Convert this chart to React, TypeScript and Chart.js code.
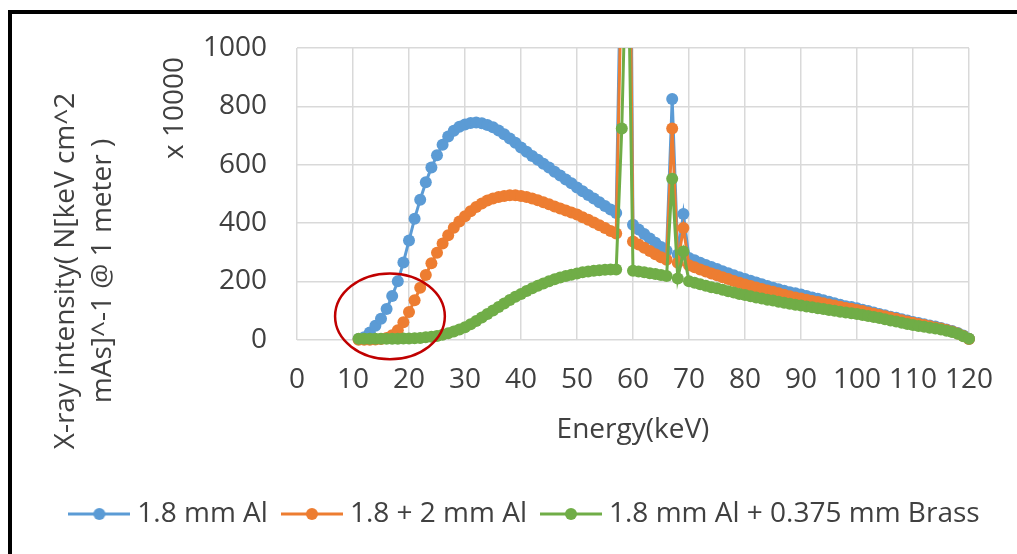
import React, { useEffect, useRef } from 'react';
import { Chart, registerables } from 'chart.js';

Chart.register(...registerables);

// ---------- data ----------
const energies = [
  11, 12, 13, 14, 15, 16, 17, 18, 19, 20,
  21, 22, 23, 24, 25, 26, 27, 28, 29, 30,
  31, 32, 33, 34, 35, 36, 37, 38, 39, 40,
  41, 42, 43, 44, 45, 46, 47, 48, 49, 50,
  51, 52, 53, 54, 55, 56, 57, 58, 59, 60,
  61, 62, 63, 64, 65, 66, 67, 68, 69, 70,
  71, 72, 73, 74, 75, 76, 77, 78, 79, 80,
  81, 82, 83, 84, 85, 86, 87, 88, 89, 90,
  91, 92, 93, 94, 95, 96, 97, 98, 99, 100,
  101, 102, 103, 104, 105, 106, 107, 108, 109, 110,
  111, 112, 113, 114, 115, 116, 117, 118, 119, 120,
];

const al18 = [
  2, 8, 25, 48, 72, 105, 150, 200, 265, 340,
  415, 480, 540, 590, 632, 668, 697, 716, 730, 738,
  743, 745, 742, 736, 728, 717, 704, 690, 675, 659,
  644, 630, 617, 603, 590, 576, 563, 549, 536, 522,
  509, 496, 484, 471, 458, 446, 434, 1500, 2600, 394,
  378, 362, 347, 332, 318, 305, 825, 292, 431, 280,
  272, 264, 256, 249, 242, 235, 228, 221, 214, 208,
  202, 196, 190, 184, 178, 173, 168, 163, 159, 155,
  150, 145, 140, 135, 130, 125, 120, 115, 112, 108,
  103, 98, 93, 88, 84, 79, 75, 70, 66, 61,
  57, 53, 49, 45, 40, 35, 30, 23, 14, 3,
];

const al18plus2 = [
  0, 0, 0, 1, 2, 6, 15, 32, 60, 95,
  135, 178, 222, 262, 298, 330, 358, 384, 405, 423,
  440, 455, 467, 477, 484, 489, 493, 495, 495, 493,
  489, 484, 478, 471, 464, 457, 450, 443, 436, 429,
  420, 411, 402, 392, 383, 373, 364, 1300, 2200, 337,
  326, 315, 304, 293, 283, 274, 724, 264, 383, 255,
  248, 241, 234, 227, 221, 214, 208, 201, 195, 189,
  184, 179, 174, 169, 164, 159, 154, 149, 145, 141,
  137, 133, 129, 125, 121, 117, 113, 109, 106, 102,
  98, 93, 89, 85, 80, 76, 72, 67, 62, 58,
  54, 50, 46, 42, 38, 33, 28, 21, 13, 2,
];

const alBrass = [
  3, 3, 3, 3, 3, 3, 3, 3, 4, 4,
  5, 6, 8, 10, 13, 17, 22, 28, 35, 43,
  53, 64, 76, 88, 100, 112, 124, 136, 147, 157,
  167, 176, 185, 193, 200, 207, 213, 218, 223, 227,
  231, 234, 236, 238, 240, 241, 241, 724, 1500, 236,
  234, 231, 228, 225, 222, 218, 552, 210, 302, 200,
  195, 190, 185, 180, 176, 171, 166, 162, 157, 153,
  149, 145, 141, 137, 134, 130, 127, 123, 120, 117,
  114, 111, 108, 105, 102, 99, 96, 93, 91, 88,
  85, 81, 78, 74, 70, 66, 62, 58, 54, 50,
  47, 44, 41, 38, 35, 31, 26, 20, 12, 3,
];

const seriesLabels = ['1.8 mm Al', '1.8 + 2 mm Al', '1.8 mm Al + 0.375 mm Brass'];
const xTitle = 'Energy(keV)';
const yTitleLines = ['X-ray intensity( N[keV cm^2', 'mAs]^-1 @ 1 meter )'];
const yUnitLabel = 'x 10000';
// red highlight ellipse (data units): centre energy, centre intensity, radius energy, radius intensity
const highlightEllipse = [16.6, 80, 9.8, 147];

// ---------- styles ----------
const COLORS = ['#5B9BD5', '#ED7D31', '#70AD47'];
const TEXT = '#404040';
const GRID = '#d9d9d9';
const FONT_FAMILY = '"Open Sans", "Noto Sans", sans-serif';
const FONT_SIZE = 28;

function makeLegendImage(color: string): HTMLCanvasElement {
  const c = document.createElement('canvas');
  c.width = 62;
  c.height = 14;
  const g = c.getContext('2d')!;
  g.strokeStyle = color;
  g.lineWidth = 3;
  g.beginPath();
  g.moveTo(0, 7);
  g.lineTo(62, 7);
  g.stroke();
  g.fillStyle = color;
  g.beginPath();
  g.arc(31, 7, 6, 0, Math.PI * 2);
  g.fill();
  return c;
}

const decorPlugin = {
  id: 'decor',
  afterDatasetsDraw(chart: any) {
    const { ctx, scales } = chart;
    const xs = scales.x;
    const ys = scales.y;
    const [ex, ey, erx, ery] = highlightEllipse;
    const cx = xs.getPixelForValue(ex);
    const cy = ys.getPixelForValue(ey);
    const rx = xs.getPixelForValue(ex + erx) - cx;
    const ry = cy - ys.getPixelForValue(ey + ery);
    ctx.save();
    ctx.beginPath();
    ctx.ellipse(cx, cy, rx, ry, 0, 0, Math.PI * 2);
    ctx.strokeStyle = '#C00000';
    ctx.lineWidth = 2.5;
    ctx.stroke();
    ctx.restore();
  },
  afterDraw(chart: any) {
    const { ctx } = chart;
    ctx.save();
    ctx.fillStyle = TEXT;
    ctx.font = `${FONT_SIZE}px ${FONT_FAMILY}`;
    ctx.textAlign = 'center';
    ctx.textBaseline = 'middle';
    const rot = (t: string, x: number, y: number) => {
      ctx.save();
      ctx.translate(x, y);
      ctx.rotate(-Math.PI / 2);
      ctx.fillText(t, 0, 0);
      ctx.restore();
    };
    rot(yTitleLines[0], 66, 271);
    rot(yTitleLines[1], 103, 271);
    rot(yUnitLabel, 175, 108);
    ctx.restore();
  },
};

export default function App() {
  const ref = useRef<HTMLCanvasElement>(null);

  useEffect(() => {
    const canvas = ref.current;
    if (!canvas) return;
    Chart.defaults.font.family = FONT_FAMILY;
    const legendImgs = COLORS.map(makeLegendImage);
    const seriesValues = [al18, al18plus2, alBrass];

    const datasets = seriesValues.map((vals, i) => ({
      label: seriesLabels[i],
      data: energies.map((e, j) => ({ x: e, y: vals[j] })),
      borderColor: COLORS[i],
      backgroundColor: COLORS[i],
      pointBackgroundColor: COLORS[i],
      pointBorderColor: COLORS[i],
      pointRadius: 6,
      pointBorderWidth: 0,
      borderWidth: 3,
      tension: 0,
      order: 3 - i,
      yAxisID: 'y',
      clip: { left: 8, right: 8, top: 0, bottom: 8 },
    }));

    const tickFont = { family: FONT_FAMILY, size: FONT_SIZE };

    const chart = new Chart(canvas, {
      type: 'line',
      data: { datasets },
      options: {
        responsive: false,
        animation: false,
        devicePixelRatio: 1,
        layout: { padding: { left: 38, right: 0, top: 48, bottom: 16 } },
        scales: {
          x: {
            type: 'linear',
            min: 0,
            max: 120,
            ticks: { stepSize: 10, color: TEXT, font: tickFont, padding: 24, maxRotation: 0, autoSkip: false },
            grid: { color: GRID, lineWidth: 1.5, drawTicks: false },
            border: { display: false },
            title: { display: true, text: xTitle, color: TEXT, font: tickFont, padding: { top: 0, bottom: 33 } },
            afterFit: (s: any) => { s.height = 140.3; },
          },
          y: {
            position: 'left',
            min: 0,
            max: 1000,
            ticks: { stepSize: 200, color: TEXT, font: tickFont, padding: 30, callback: (v: any) => String(v) },
            grid: { color: GRID, lineWidth: 1.5, drawTicks: false },
            border: { display: false },
            afterFit: (s: any) => { s.width = 259; },
          },
          spacer: {
            type: 'linear',
            position: 'right',
            display: true,
            ticks: { display: false },
            grid: { display: false },
            border: { display: false },
            afterFit: (s: any) => { s.width = 43; },
          },
        },
        plugins: {
          legend: {
            position: 'bottom',
            labels: {
              color: TEXT,
              font: tickFont,
              usePointStyle: true,
              pointStyleWidth: 48,
              padding: 20,
              sort: (a: any, b: any) => a.datasetIndex - b.datasetIndex,
              generateLabels: (ch: any) => {
                const items = (Chart.defaults.plugins.legend.labels as any).generateLabels(ch);
                items.forEach((it: any) => { it.pointStyle = legendImgs[it.datasetIndex]; });
                return items;
              },
            },
          },
          tooltip: { enabled: false },
        },
      } as any,
      plugins: [decorPlugin],
    });
    return () => chart.destroy();
  }, []);

  return (
    <div style={{ position: 'fixed', left: 0, top: 0, width: 1017, height: 554, overflow: 'hidden', background: '#fff' }}>
      <canvas ref={ref} width={1017} height={554} style={{ position: 'absolute', left: 0, top: 0, width: 1017, height: 554 }} />
      <div style={{ position: 'absolute', left: 8, top: 10, width: 1200, height: 800, borderLeft: '4px solid #000', borderTop: '4px solid #000', pointerEvents: 'none' }} />
    </div>
  );
}
